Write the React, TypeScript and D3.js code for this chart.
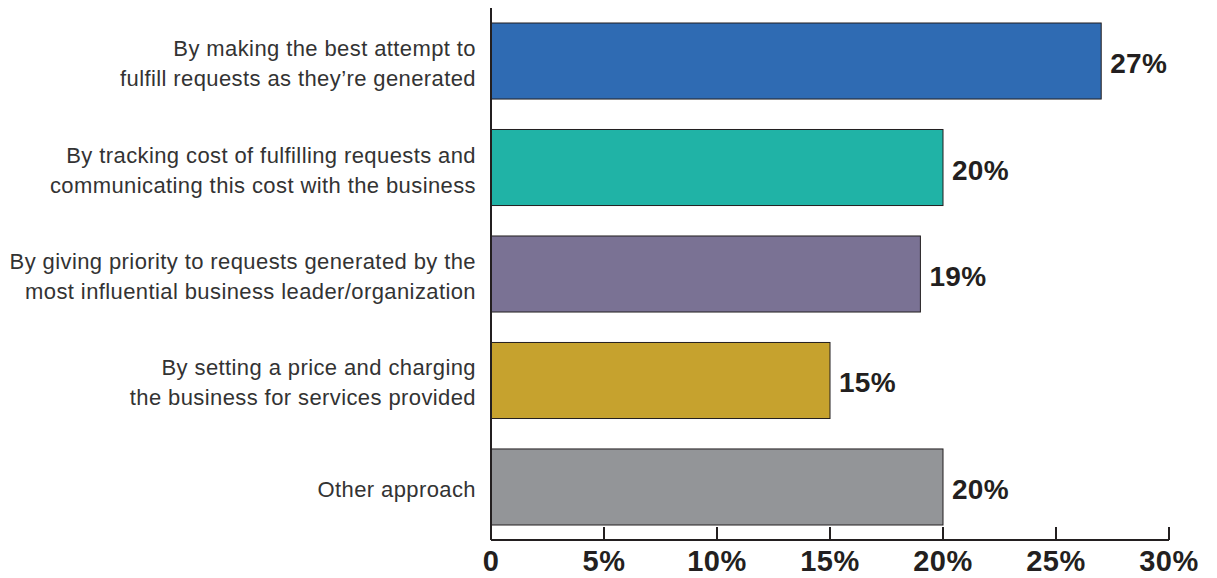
import React from "react";
import * as d3 from "d3";

const categoryLines: string[][] = [
  ["By making the best attempt to", "fulfill requests as they\u2019re generated"],
  ["By tracking cost of fulfilling requests and", "communicating this cost with the business"],
  ["By giving priority to requests generated by the", "most influential business leader/organization"],
  ["By setting a price and charging", "the business for services provided"],
  ["Other approach"],
];
const values: number[] = [27, 20, 19, 15, 20];
const colors: string[] = ["#2f6bb3", "#20b3a6", "#7a7294", "#c6a22e", "#939598"];
const ticks: number[] = [0, 5, 10, 15, 20, 25, 30];
const tickLabels: string[] = ["0", "5%", "10%", "15%", "20%", "25%", "30%"];

const W = 1217;
const H = 578;

export default function App() {
  const ids = categoryLines.map((_, i) => String(i));
  const x = d3.scaleLinear().domain([0, 30]).range([491, 1169]);
  const y = d3.scaleBand<string>().domain(ids).range([23, 525]).paddingInner(0.286).paddingOuter(0);
  const axisY = 540;
  const font = "'Liberation Sans', Arial, Helvetica, sans-serif";
  return (
    <svg width={W} height={H} style={{ position: "absolute", left: 0, top: 0, background: "#fff" }}>
      {ids.map((id, i) => {
        const y0 = y(id)!;
        const bw = y.bandwidth();
        const cy = y0 + bw / 2;
        const lines = categoryLines[i];
        const lh = 30;
        return (
          <g key={id}>
            <rect x={x(0)} y={y0} width={x(values[i]) - x(0)} height={bw} fill={colors[i]} stroke="#231f20" strokeWidth={1} />
            <text x={x(values[i]) + 9} y={cy + 12} fontFamily={font} fontWeight="bold" fontSize={28} letterSpacing={0.3} fill="#231f20">
              {values[i]}%
            </text>
            {lines.map((ln, j) => (
              <text
                key={j}
                x={476}
                y={cy + (j - (lines.length - 1) / 2) * lh + 10}
                textAnchor="end"
                fontFamily={font}
                fontSize={22}
                letterSpacing={0.4}
                fill="#333"
              >
                {ln}
              </text>
            ))}
          </g>
        );
      })}
      <line x1={x(0)} x2={x(0)} y1={8} y2={axisY} stroke="#231f20" strokeWidth={2} />
      <line x1={x(0)} x2={x(30)} y1={axisY} y2={axisY} stroke="#231f20" strokeWidth={2} />
      {ticks.map((t, i) => (
        <g key={t}>
          <line x1={x(t)} x2={x(t)} y1={axisY} y2={axisY - 13} stroke="#231f20" strokeWidth={2} />
          <text x={x(t)} y={571} textAnchor="middle" fontFamily={font} fontWeight="bold" fontSize={29} letterSpacing={0.5} fill="#231f20">
            {tickLabels[i]}
          </text>
        </g>
      ))}
    </svg>
  );
}
